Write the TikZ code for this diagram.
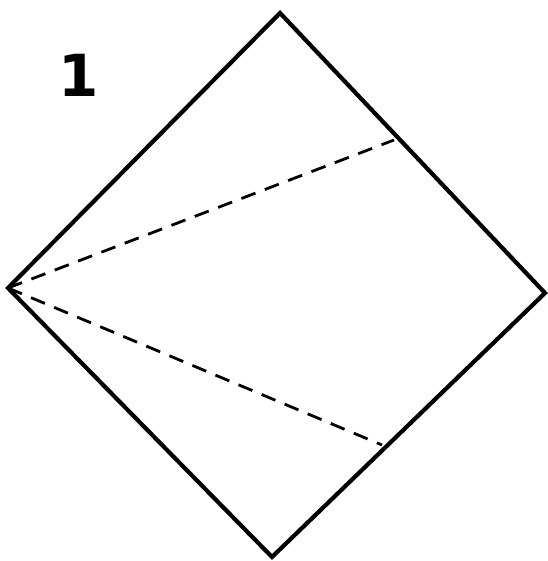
\documentclass[tikz,border=0pt]{standalone}
\usepackage{fontspec}
\newfontfamily\labelfont{DejaVu Sans}
\begin{document}
\begin{tikzpicture}[x=1pt,y=-1pt,
  edge/.style={line width=4.2pt,line join=miter,black},
  crease/.style={line width=2.8pt,dash pattern=on 15pt off 10pt,black},
  steplabel/.style={font=\labelfont\bfseries\fontsize{58}{58}\selectfont,inner sep=0pt}]
\useasboundingbox (0,0) rectangle (547,561);
\coordinate (T) at (280,13);
\coordinate (R) at (545,293);
\coordinate (B) at (272,557);
\coordinate (L) at (8,288);
\coordinate (U) at (394,140);
\coordinate (D) at (382,445);
\draw[edge] (T) -- (R) -- (B) -- (L) -- cycle;
\draw[crease] (L) -- (U);
\draw[crease] (L) -- (D);
\node[steplabel] (n1) at (79,75) {1};
\end{tikzpicture}
\end{document}
